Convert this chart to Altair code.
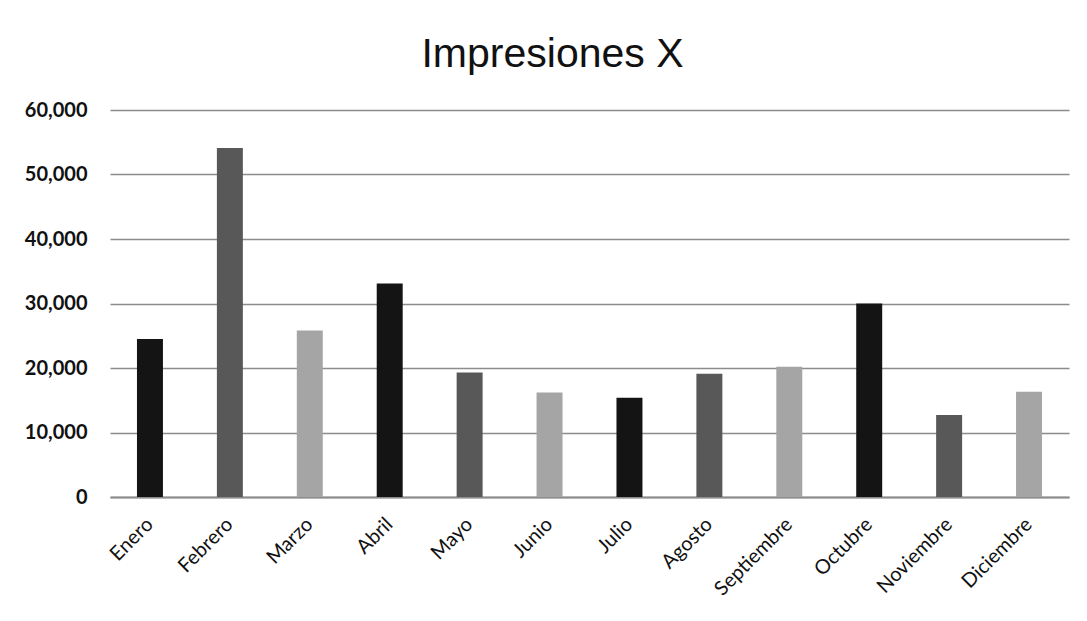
import altair as alt
import pandas as pd

meses = ["Enero", "Febrero", "Marzo", "Abril", "Mayo", "Junio", "Julio",
         "Agosto", "Septiembre", "Octubre", "Noviembre", "Diciembre"]
impresiones = [24500, 54100, 25800, 33100, 19300, 16200, 15400,
               19100, 20200, 30000, 12700, 16300]
tonos = ["oscuro", "medio", "claro"]

df = pd.DataFrame({
    "mes": meses,
    "impresiones": impresiones,
    "tono": [tonos[i % 3] for i in range(len(meses))],
})

chart = alt.Chart(df).mark_bar().encode(
    x=alt.X("mes:N", sort=meses, title=None,
            scale=alt.Scale(paddingInner=0.675, paddingOuter=0.3375),
            axis=alt.Axis(labelAngle=-45, labelAlign="right", labelBaseline="middle",
                          labelFont="Lato", labelFontSize=20, labelColor="#111",
                          ticks=False, domain=True, domainColor="#8c8c8c",
                          domainWidth=2, labelPadding=24)),
    y=alt.Y("impresiones:Q", title=None,
            scale=alt.Scale(domain=[0, 60000], nice=False),
            axis=alt.Axis(values=[0, 10000, 20000, 30000, 40000, 50000, 60000],
                          format=",.0f", labelFont="Lato", labelFontWeight="bold",
                          labelFontSize=20, labelColor="#111", ticks=False,
                          domain=False, grid=True, gridColor="#8c8c8c",
                          gridWidth=1.5, labelPadding=23)),
    color=alt.Color("tono:N", legend=None,
                    scale=alt.Scale(domain=tonos,
                                    range=["#141414", "#585858", "#a5a5a5"])),
).properties(
    width=959,
    height=387,
    title=alt.TitleParams("Impresiones X", font="Liberation Sans", fontSize=41,
                          fontWeight="normal", color="#111", anchor="middle",
                          dx=-37, offset=24),
    autosize=alt.AutoSizeParams(type="none"),
    padding={"left": 102, "top": 102, "right": 10, "bottom": 110},
).configure_view(stroke=None)

chart.save("out.html", embed_options={"renderer": "svg", "actions": False})
